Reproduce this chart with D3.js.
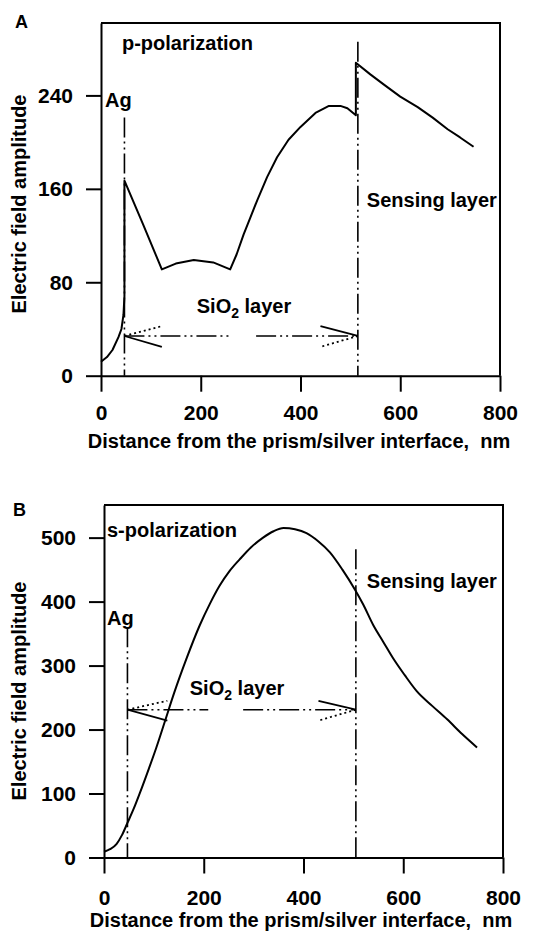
<!DOCTYPE html>
<html>
<head>
  <meta charset="utf-8">
  <title>Electric field amplitude</title>
  <script src="https://d3js.org/d3.v7.min.js"></script>
  <style>
    body { margin: 0; background: #fff; }
    text { font-family: 'Liberation Sans', Arial, sans-serif; font-weight: bold; fill: #000; }
  </style>
</head>
<body>
<div id="chart"></div>
<script type="text/javascript">
  // values
  let xTicks = [0, 200, 400, 600, 800];
  let pTicks = [0, 80, 160, 240];
  let sTicks = [0, 100, 200, 300, 400, 500];

  // panel A, p-polarization (distance nm, amplitude)
  let pDistance  = [0, 12, 23, 35, 41, 45, 47, 47, 85, 122, 150, 186, 225, 259, 272, 286, 300, 313, 333, 353, 376, 400, 430, 457, 480, 494, 511, 511, 540, 568, 600, 635, 665, 695, 720, 747];
  let pAmplitude = [12, 16, 22, 33, 40, 52, 68, 167, 129, 91, 96, 99, 97, 91, 104, 121, 136, 150, 170, 187, 202, 213, 225, 231, 231, 229, 223, 268, 258, 249, 239, 230, 221, 211, 204, 196];

  // panel B, s-polarization
  let sDistance  = [0, 12, 25, 36, 47, 60, 72, 90, 105, 123, 141, 165, 192, 212, 232, 252, 272, 295, 319, 340, 360, 383, 406, 430, 453, 478, 503, 520, 540, 560, 580, 603, 627, 658, 688, 718, 748];
  let sAmplitude = [9, 13, 21, 35, 54, 77, 101, 139, 172, 215, 258, 310, 363, 396, 425, 448, 466, 485, 500, 510, 515, 513, 507, 494, 477, 450, 419, 395, 363, 337, 311, 285, 260, 237, 216, 193, 172];

  // layer boundaries (nm) and where the marker lines start (amplitude)
  let pLayers = [47, 515];
  let pLayerTops = [221, 286];
  let sLayers = [47, 505];
  let sLayerTops = [360, 482];

  let svg = d3.select('#chart')
    .append('svg')
      .attr('width', 535)
      .attr('height', 932);

  function drawPanel(o) {
    let x = d3.scaleLinear().domain([0, 800]).range([o.left, o.right]);
    let y = d3.scaleLinear().domain([0, o.yMax]).range([o.bottom, o.top]);
    let g = svg.append('g');

    // frame top/right
    g.append('path')
      .attr('d', `M${o.left},${o.top}H${o.right}V${o.bottom}`)
      .attr('fill', 'none').attr('stroke', '#000').attr('stroke-width', 2);

    let xAxis = g.append('g')
      .attr('transform', `translate(0,${o.bottom})`)
      .call(d3.axisBottom(x).tickValues(xTicks).tickSize(16).tickSizeOuter(0).tickPadding(o.xPad));
    let yAxis = g.append('g')
      .attr('transform', `translate(${o.left},0)`)
      .call(d3.axisLeft(y).tickValues(o.ticks).tickSize(15).tickSizeOuter(0).tickPadding(13));
    [xAxis, yAxis].forEach(a => {
      a.selectAll('path, line').attr('stroke', '#000').attr('stroke-width', 2);
      a.selectAll('text').style('font-size', '21px').attr('fill', '#000');
      a.attr('font-family', null).attr('font-size', null);
    });

    // layer marker lines
    let dash = '20,4,2,4,2,4';
    o.layers.forEach((d, i) => {
      g.append('line')
        .attr('x1', x(d)).attr('x2', x(d))
        .attr('y1', y(o.layerTops[i])).attr('y2', y(0))
        .attr('stroke', '#000').attr('stroke-width', 1.6)
        .attr('stroke-dasharray', dash);
    });

    // double arrow for the SiO2 layer
    let ay = y(o.arrow[0]);
    let x0 = x(o.layers[0]), x1 = x(o.layers[1]);
    [[x0, x(o.gap[0])], [x(o.gap[1]), x1]].forEach(s => {
      g.append('line')
        .attr('x1', s[0]).attr('x2', s[1]).attr('y1', ay).attr('y2', ay)
        .attr('stroke', '#000').attr('stroke-width', 1.6)
        .attr('stroke-dasharray', dash);
    });
    let barbs = [
      [x0, x(o.barbX[0]), y(o.arrow[1]), '2,3'],
      [x0, x(o.barbX[0]), y(o.arrow[2]), null],
      [x1, x(o.barbX[1]), y(o.arrow[1]), null],
      [x1, x(o.barbX[1]), y(o.arrow[2]), '2,3']
    ];
    barbs.forEach(b => {
      g.append('line')
        .attr('x1', b[0]).attr('y1', ay).attr('x2', b[1]).attr('y2', b[2])
        .attr('stroke', '#000').attr('stroke-width', 1.8)
        .attr('stroke-dasharray', b[3]);
    });

    // field curve
    let line = d3.line()
      .x(i => x(o.dist[i]))
      .y(i => y(o.amp[i]))
      .curve(o.curve);
    g.append('path')
      .attr('d', line(d3.range(o.dist.length)))
      .attr('fill', 'none').attr('stroke', '#000').attr('stroke-width', 2)
      .attr('stroke-linejoin', 'round');

    // labels
    let lab = (t, px, py, size) => g.append('text')
      .attr('x', x(px)).attr('y', y(py)).style('font-size', size + 'px').text(t);
    lab(o.pol, o.polAt[0], o.polAt[1], 20);
    lab('Ag', o.agAt[0], o.agAt[1], 20);
    lab('Sensing layer', o.senseAt[0], o.senseAt[1], 20);
    let sio = lab('SiO', o.sioAt[0], o.sioAt[1], 20);
    sio.append('tspan').attr('dy', 5).style('font-size', '14px').text('2');
    sio.append('tspan').attr('dy', -5).text(' layer');

    g.append('text')
      .attr('x', o.panelAt[0]).attr('y', o.panelAt[1])
      .style('font-size', '18px').text(o.panel);

    g.append('text')
      .attr('text-anchor', 'middle')
      .attr('transform', `translate(${o.xTitle[0]},${o.xTitle[1]})`)
      .style('font-size', '20px')
      .text('Distance from the prism/silver interface,\u00a0\u00a0nm');
    g.append('text')
      .attr('text-anchor', 'middle')
      .attr('transform', `translate(${o.yTitle[0]},${o.yTitle[1]}) rotate(-90)`)
      .style('font-size', '20px')
      .text('Electric field amplitude');
  }

  drawPanel({
    left: 101, right: 500, top: 23, bottom: 375.7, yMax: 302,
    ticks: pTicks, xPad: 13, curve: d3.curveLinear,
    dist: pDistance, amp: pAmplitude,
    layers: pLayers, layerTops: pLayerTops,
    arrow: [34, 42.5, 24.7], barbX: [122, 440], gap: [259, 311],
    pol: 'p-polarization', polAt: [42, 279], agAt: [8, 230],
    senseAt: [533, 144.6], sioAt: [192, 53.7],
    panel: 'A', panelAt: [15, 28],
    xTitle: [299, 448], yTitle: [26, 204]
  });

  drawPanel({
    left: 104, right: 503, top: 505, bottom: 857.5, yMax: 551,
    ticks: sTicks, xPad: 17, curve: d3.curveMonotoneX,
    dist: sDistance, amp: sAmplitude,
    layers: sLayers, layerTops: sLayerTops,
    arrow: [231, 245, 214], barbX: [127, 430], gap: [209, 279],
    pol: 's-polarization', polAt: [6, 501], agAt: [6, 363],
    senseAt: [527, 421], sioAt: [172, 254],
    panel: 'B', panelAt: [13, 516],
    xTitle: [301, 927], yTitle: [26, 691]
  });
</script>
</body>
</html>
